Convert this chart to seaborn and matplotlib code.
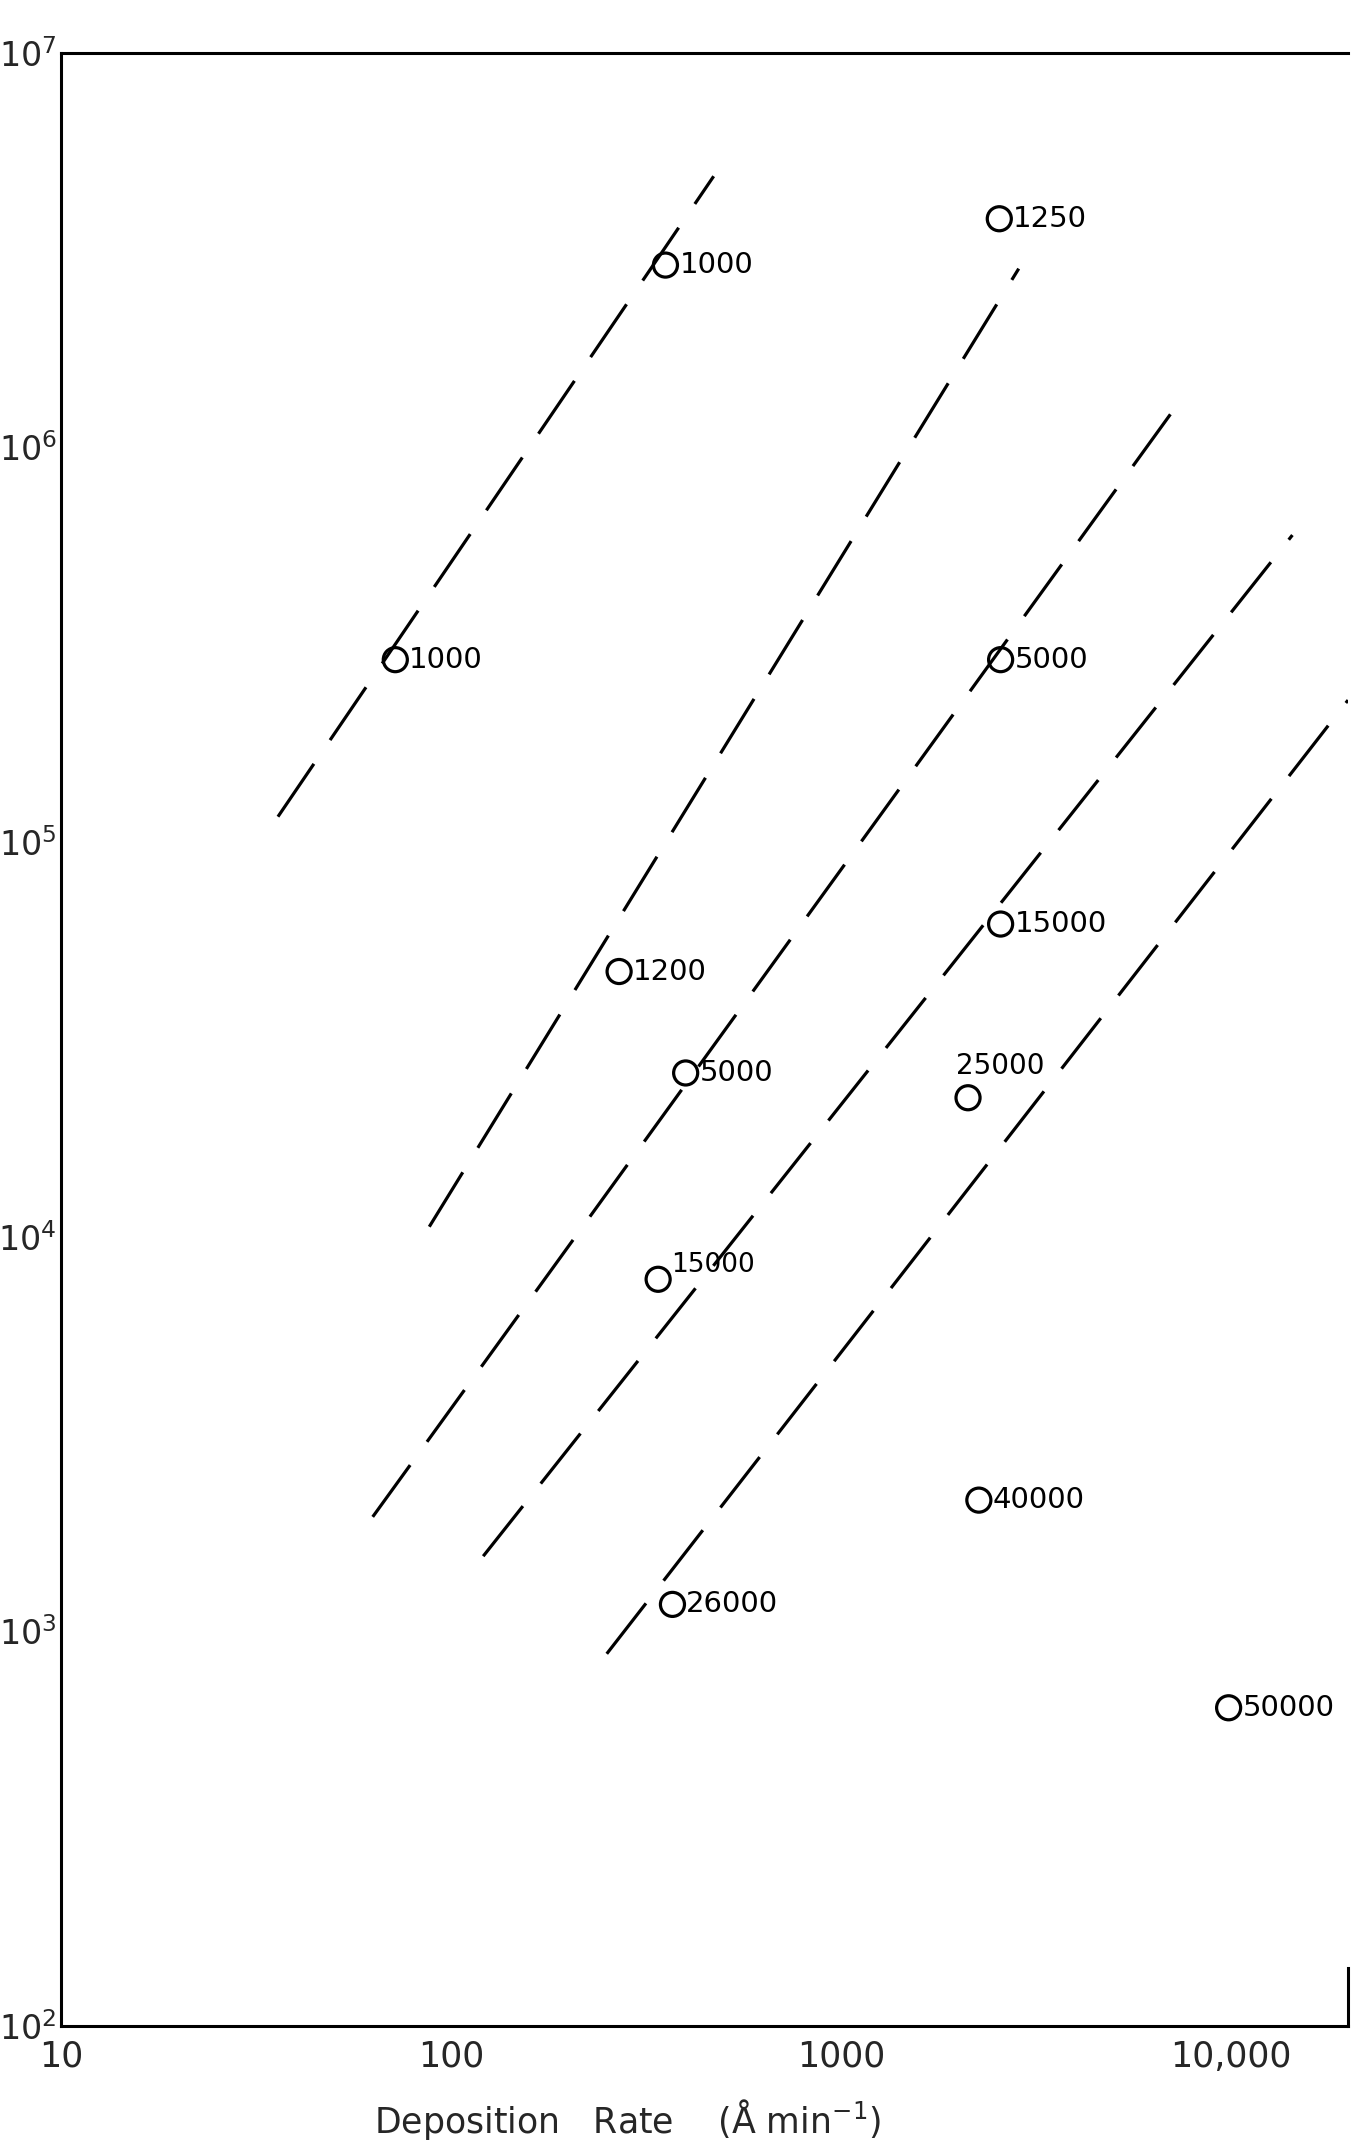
import matplotlib
matplotlib.use("Agg")
import matplotlib.pyplot as plt
import seaborn as sns
import pandas as pd

# measured points (deposition rate, y value) and their text labels
rate = [355, 2550, 72, 2570, 2570, 270, 400, 2120, 340, 2260, 370, 9880]
value = [2.9e6, 3.8e6, 2.9e5, 2.9e5, 6.2e4, 4.7e4, 2.6e4, 2.25e4, 7.8e3, 2.15e3, 1.17e3, 640]
point_labels = ['1000', '1250', '1000', '5000', '15000', '1200',
                '5000', '25000', '15000', '40000', '26000', '50000']
label_place = ['right', 'right', 'right', 'right', 'right', 'right',
               'right', 'above', 'raised', 'right', 'right', 'right']

# dashed guide lines, start and end points
line_x0 = [36, 88, 63, 121, 251]
line_y0 = [1.16e5, 1.06e4, 1.95e3, 1.55e3, 877]
line_x1 = [472, 2860, 7530, 14400, 20000]
line_y1 = [4.87e6, 2.84e6, 1.34e6, 6.0e5, 2.29e5]

x_ticks = [10, 100, 1000, 10000]
x_tick_labels = ['10', '100', '1000', '10,000']
y_ticks = [1e2, 1e3, 1e4, 1e5, 1e6, 1e7]
y_tick_labels = [r'$10^{2}$', r'$10^{3}$', r'$10^{4}$', r'$10^{5}$', r'$10^{6}$', r'$10^{7}$']

sns.set_style('white')
plt.rcParams['font.family'] = ['DejaVu Sans']
plt.rcParams['mathtext.fontset'] = 'dejavusans'

fig = plt.figure(figsize=(13.51, 21.52), dpi=100)
ax = fig.add_axes([0.0452, 0.0586, 0.9526, 0.9168])

for i in range(len(line_x0)):
    seg = pd.DataFrame({'x': [line_x0[i], line_x1[i]], 'y': [line_y0[i], line_y1[i]]})
    sns.lineplot(data=seg, x='x', y='y', ax=ax, color='black', linewidth=2.3,
                 linestyle=(0, (20, 9)), estimator=None, sort=False)

pts = pd.DataFrame({'rate': rate, 'value': value, 'label': point_labels})
sns.scatterplot(data=pts, x='rate', y='value', ax=ax, marker='o', s=300,
                facecolor='none', edgecolor='black', linewidth=2.3, zorder=3)

for xv, yv, lab, place in zip(rate, value, point_labels, label_place):
    if place == 'above':
        off, size, va = (-9, 13), 20, 'bottom'
    elif place == 'raised':
        off, size, va = (9, 10), 19, 'center'
    else:
        off, size, va = (10, 0), 21, 'center'
    ax.annotate(lab, (xv, yv), xytext=off, textcoords='offset points',
                ha='left', va=va, fontsize=size, color='black', annotation_clip=False)

ax.set_xscale('log')
ax.set_yscale('log')
ax.set_xlim(10, 20000)
ax.set_ylim(1e2, 1e7)
ax.set_xticks(x_ticks)
ax.set_xticklabels(x_tick_labels)
ax.set_yticks(y_ticks)
ax.set_yticklabels(y_tick_labels)
ax.minorticks_off()
ax.tick_params(axis='x', direction='in', length=9, width=1.5, labelsize=25, pad=10, color='black')
ax.tick_params(axis='y', direction='in', length=12, width=1.5, labelsize=24, pad=3, color='black')

ax.set_xlabel('Deposition   Rate    (Å min$^{-1}$)', fontsize=25)
ax.xaxis.set_label_coords(0.44, -0.036)
ax.set_ylabel('')

for side in ['left', 'top', 'bottom']:
    ax.spines[side].set_color('black')
    ax.spines[side].set_linewidth(2.2)
ax.spines['right'].set_color('black')
ax.spines['right'].set_linewidth(2.2)
ax.spines['right'].set_bounds(1e2, 1.4e2)

fig.savefig('out.png', dpi=100, facecolor='white')
